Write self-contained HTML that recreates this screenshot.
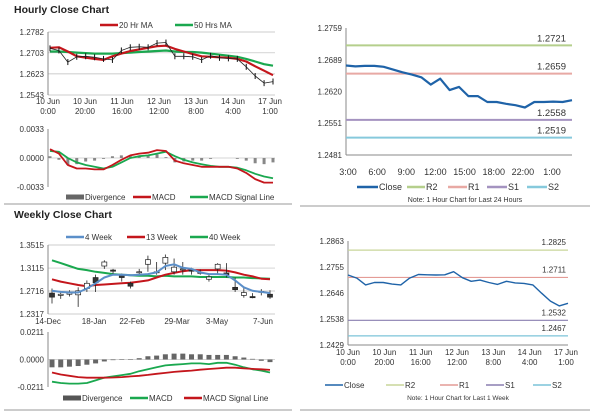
<!DOCTYPE html>
<html><head><meta charset="utf-8"><style>
html,body{margin:0;padding:0;background:#fff;}
svg{display:block;font-family:"Liberation Sans",sans-serif;}
</style></head><body>
<svg id="s" width="600" height="413" viewBox="0 0 600 413" xmlns="http://www.w3.org/2000/svg">
<text x="14" y="13" font-size="10.5" font-weight="bold" fill="#222">Hourly Close Chart</text>
<text x="14" y="218" font-size="10.5" font-weight="bold" fill="#222">Weekly Close Chart</text>
<line x1="4" y1="204" x2="292" y2="204" stroke="#999"/>
<line x1="300" y1="206" x2="590" y2="206" stroke="#999"/>
<line x1="4" y1="410" x2="292" y2="410" stroke="#999"/>
<line x1="300" y1="410" x2="590" y2="410" stroke="#999"/>
</svg>
<script>
// ---- data ----
const hourlyClose=[1.2720,1.2712,1.2668,1.2688,1.2690,1.2686,1.2680,1.2676,1.2712,1.2724,1.2726,1.2724,1.2740,1.2742,1.2690,1.2690,1.2688,1.2676,1.2692,1.2684,1.2682,1.2680,1.2650,1.2615,1.2588,1.2594];
const hourlyMA20=[1.2722,1.2724,1.2708,1.2690,1.2685,1.2680,1.2676,1.2690,1.2700,1.2710,1.2716,1.2722,1.2728,1.2730,1.2718,1.2708,1.2698,1.2690,1.2688,1.2686,1.2684,1.2680,1.2670,1.2652,1.2635,1.2618];
const hourlyMA50=[1.2708,1.2708,1.2706,1.2704,1.2702,1.2700,1.2700,1.2700,1.2702,1.2704,1.2706,1.2708,1.2710,1.2712,1.2708,1.2706,1.2706,1.2704,1.2700,1.2696,1.2692,1.2688,1.2680,1.2670,1.2660,1.2654];
const hourlyTicks=[1.2543,1.2623,1.2703,1.2782];
const hourlyCats=[["10 Jun","0:00"],["10 Jun","20:00"],["11 Jun","16:00"],["12 Jun","12:00"],["13 Jun","8:00"],["14 Jun","4:00"],["17 Jun","1:00"]];
const hMacd=[0.0010,0.0005,-0.0008,-0.0012,-0.0012,-0.0013,-0.0013,-0.0008,-0.0002,0.0003,0.0005,0.0006,0.0009,0.0008,-0.0003,-0.0006,-0.0008,-0.0010,-0.0010,-0.0010,-0.0010,-0.0012,-0.0017,-0.0024,-0.0028,-0.0028];
const hSignal=[0.0008,0.0007,0.0000,-0.0005,-0.0008,-0.0010,-0.0012,-0.0010,-0.0005,0.0000,0.0002,0.0003,0.0005,0.0007,0.0002,-0.0002,-0.0005,-0.0007,-0.0009,-0.0010,-0.0010,-0.0011,-0.0014,-0.0018,-0.0021,-0.0023];
const hDiv=[0.0002,-0.0002,-0.0008,-0.0007,-0.0004,-0.0003,-0.0001,0.0002,0.0003,0.0003,0.0003,0.0003,0.0004,0.0001,-0.0005,-0.0004,-0.0003,-0.0003,-0.0001,0,0,-0.0001,-0.0003,-0.0006,-0.0007,-0.0005];
const hMacdTicks=[-0.0033,0.0000,0.0033];

const dayClose=[1.2677,1.2675,1.2676,1.2676,1.2674,1.2668,1.2662,1.2657,1.2651,1.2635,1.2648,1.2623,1.2630,1.2610,1.2610,1.2597,1.2597,1.2593,1.2590,1.2585,1.2597,1.2597,1.2598,1.2597,1.2601];
const dayTicks=[1.2481,1.2551,1.2620,1.2689,1.2759];
const dayCats=["3:00","6:00","9:00","12:00","15:00","18:00","22:00","1:00"];
const dayLevels=[1.2721,1.2659,1.2558,1.2519];

const wOpen=[1.2680,1.2640,1.2660,1.2650,1.2760,1.2950,1.3150,1.3080,1.3000,1.2850,1.3050,1.3180,1.3050,1.3200,1.3050,1.3100,1.3080,1.3040,1.2920,1.3100,1.3030,1.2780,1.2640,1.2620,1.2710,1.2660];
const wClose=[1.2610,1.2660,1.2680,1.2720,1.2850,1.2860,1.3220,1.3060,1.2950,1.2800,1.3050,1.3260,1.3050,1.3300,1.3130,1.3100,1.3060,1.3030,1.2960,1.3180,1.3000,1.2740,1.2690,1.2600,1.2710,1.2610];
const wHigh=[1.2760,1.2700,1.2730,1.2780,1.2900,1.3000,1.3250,1.3100,1.3020,1.2880,1.3100,1.3330,1.3220,1.3350,1.3280,1.3220,1.3120,1.3090,1.3000,1.3200,1.3200,1.2950,1.2780,1.2680,1.2750,1.2730];
const wLow=[1.2500,1.2580,1.2620,1.2440,1.2700,1.2700,1.3100,1.2990,1.2880,1.2760,1.3000,1.3050,1.3000,1.3080,1.3000,1.3000,1.3000,1.3000,1.2880,1.3000,1.2950,1.2700,1.2600,1.2590,1.2640,1.2580];
const w4=[1.2720,1.2700,1.2690,1.2690,1.2760,1.2850,1.2950,1.3000,1.3000,1.2990,1.3000,1.3010,1.3040,1.3150,1.3180,1.3120,1.3100,1.3040,1.3010,1.3010,1.3000,1.2900,1.2780,1.2720,1.2700,1.2680];
const w13=[1.2920,1.2880,1.2850,1.2820,1.2800,1.2820,1.2830,1.2840,1.2850,1.2860,1.2880,1.2900,1.2950,1.3000,1.3030,1.3060,1.3080,1.3080,1.3080,1.3080,1.3070,1.3040,1.3000,1.2970,1.2930,1.2920];
const w40=[1.3250,1.3200,1.3150,1.3100,1.3080,1.3050,1.3030,1.3010,1.3000,1.2990,1.2980,1.2980,1.2970,1.2980,1.2970,1.2970,1.2970,1.2960,1.2960,1.2960,1.2960,1.2950,1.2950,1.2940,1.2935,1.2930];
const wTicks=[1.2317,1.2716,1.3115,1.3515];
const wCats=["14-Dec","18-Jan","22-Feb","29-Mar","3-May","7-Jun"];
const wDiv=[-0.0060,-0.0060,-0.0055,-0.0050,-0.0040,-0.0030,-0.0015,-0.0005,0,0.0003,0.0010,0.0025,0.0030,0.0040,0.0045,0.0045,0.0040,0.0040,0.0035,0.0035,0.0035,0.0025,0.0015,0.0005,-0.0010,-0.0020];
const wMacd=[-0.0170,-0.0180,-0.0185,-0.0185,-0.0180,-0.0160,-0.0140,-0.0130,-0.0120,-0.0110,-0.0090,-0.0075,-0.0060,-0.0045,-0.0040,-0.0035,-0.0030,-0.0030,-0.0035,-0.0025,-0.0025,-0.0040,-0.0060,-0.0075,-0.0085,-0.0100];
const wSignal=[-0.0100,-0.0115,-0.0125,-0.0135,-0.0140,-0.0140,-0.0140,-0.0138,-0.0135,-0.0130,-0.0125,-0.0118,-0.0110,-0.0103,-0.0095,-0.0090,-0.0085,-0.0078,-0.0073,-0.0068,-0.0063,-0.0063,-0.0068,-0.0072,-0.0075,-0.0080];
const wMacdTicks=[-0.0211,0.0000,0.0211];

const weekClose=[1.2721,1.2708,1.2680,1.2690,1.2690,1.2683,1.2680,1.2708,1.2723,1.2722,1.2721,1.2722,1.2735,1.2710,1.2695,1.2700,1.2690,1.2682,1.2695,1.2688,1.2686,1.2680,1.2645,1.2612,1.2592,1.2603];
const weekTicks=[1.2429,1.2538,1.2646,1.2755,1.2863];
const weekCats=[["10 Jun","0:00"],["10 Jun","20:00"],["11 Jun","16:00"],["12 Jun","12:00"],["13 Jun","8:00"],["14 Jun","4:00"],["17 Jun","1:00"]];
const weekLevels=[1.2825,1.2711,1.2532,1.2467];

// ---- helpers ----
const S=document.getElementById('s');const NS='http://www.w3.org/2000/svg';
function mk(tag,attrs,name,parent){const el=document.createElementNS(NS,tag);for(const k in attrs)el.setAttribute(k,attrs[k]);


(parent||S).appendChild(el);return el;}
function txt(x,y,s,name,o){const t=mk('text',Object.assign({x:x,y:y,'font-size':8,fill:'#333'},o||{}),name);t.textContent=s;return t;}
function scale(d0,d1,r0,r1){return v=>r0+(v-d0)/(d1-d0)*(r1-r0);}
function poly(xs,ys,vals,col,w,name){const pts=vals.map((v,i)=>xs(i).toFixed(1)+','+ys(v).toFixed(1)).join(' ');return mk('polyline',{points:pts,fill:'none',stroke:col,'stroke-width':w,'stroke-linejoin':'round'},name);}
function yaxis(x0,x1,ys,ticks,fmt,name,grid){ticks.forEach(t=>{const y=ys(t);if(grid)mk('line',{x1:x0,x2:x1,y1:y,y2:y,stroke:'#bbb','stroke-width':0.7},name+'-grid');txt(x0-4,y+3,fmt(t),name+'-tick',{'text-anchor':'end'});});
mk('line',{x1:x0,x2:x0,y1:ys(ticks[0]),y2:ys(ticks[ticks.length-1]),stroke:'#888'},name+'-line');}
function legend(items,y,name){items.forEach(it=>{const L=it.L||18;if(it.bar)mk('rect',{x:it.x,y:y-3.5,width:L,height:5,fill:it.c},name+'-swatch');else mk('line',{x1:it.x,x2:it.x+L,y1:y-1,y2:y-1,stroke:it.c,'stroke-width':it.w||2.5},name+'-swatch');txt(it.x+L+1,y+2,it.t,name+'-entry',{'font-size':it.fs||8});});}
const f4=v=>v.toFixed(4);

// ---- Hourly close (top-left) ----
{const X0=48,X1=275;const ys=scale(1.2543,1.2782,95,32);const xs=i=>X0+2+i*(X1-X0-4)/(hourlyClose.length-1);
yaxis(X0,X1,ys,hourlyTicks,f4,'hourly-y',true);
hourlyCats.forEach((c,i)=>{const x=X0+i*(270-X0)/6;txt(x,104,c[0],'hourly-x-label',{'text-anchor':'middle'});txt(x,114,c[1],'hourly-x-label',{'text-anchor':'middle'});});
poly(xs,ys,hourlyMA50,'#1aa84f',2.2,'ma50-line');poly(xs,ys,hourlyMA20,'#c4161c',2.2,'ma20-line');
hourlyClose.forEach((v,i)=>{const x=xs(i);mk('line',{x1:x,x2:x,y1:ys(v)-3,y2:ys(v)+3,stroke:'#111','stroke-width':1},'close-bar');});
poly(xs,ys,hourlyClose,'#222',0.8,'close-line');
legend([{x:100,c:'#c4161c',t:'20 Hr MA'},{x:175,c:'#1aa84f',t:'50 Hrs MA'}],26,'hourly-legend');
const ym=scale(-0.0033,0.0033,187,129);yaxis(X0,X1,ym,hMacdTicks,f4,'hmacd-y',false);
mk('line',{x1:X0,x2:X1,y1:ym(0),y2:ym(0),stroke:'#aaa','stroke-width':0.6},'hmacd-zero');
hDiv.forEach((v,i)=>{const x=xs(i);mk('rect',{x:x-1.5,y:Math.min(ym(v),ym(0)),width:3,height:Math.abs(ym(v)-ym(0)),fill:'#888'},'hmacd-divergence-bar');});
poly(xs,ym,hSignal,'#1aa84f',1.8,'hmacd-signal-line');poly(xs,ym,hMacd,'#c4161c',1.8,'hmacd-line');
legend([{x:66,c:'#666',t:'Divergence',bar:true},{x:133,c:'#c4161c',t:'MACD'},{x:190,c:'#1aa84f',t:'MACD Signal Line'}],198,'hmacd-legend');}

// ---- Last 24 hours (top-right) ----
{const X0=346,X1=572;const ys=scale(1.2481,1.2759,155,28);const xs=i=>X0+i*(X1-X0)/(dayClose.length-1);
yaxis(X0,X1,ys,dayTicks,f4,'day-y',false);
mk('line',{x1:X0,x2:X1,y1:155,y2:155,stroke:'#888'},'day-x-axis');
dayCats.forEach((c,i)=>{const x=348+i*(552-348)/7;txt(x,175,c,'day-x-label',{'text-anchor':'middle','font-size':9});});
const cols=['#b5cf8c','#e8a9a4','#a493c0','#86c9dc'];const nm=['r2','r1','s1','s2'];
dayLevels.forEach((v,i)=>{mk('line',{x1:X0,x2:X1,y1:ys(v),y2:ys(v),stroke:cols[i],'stroke-width':2},nm[i]+'-level');txt(X1-6,ys(v)-4,f4(v),nm[i]+'-value',{'text-anchor':'end','font-size':9.5});});
poly(xs,ys,dayClose,'#1f63a8',2.2,'day-close-line');
legend([{x:357,c:'#1f63a8',t:'Close',fs:9,L:21},{x:407,c:cols[0],t:'R2',fs:9},{x:448,c:cols[1],t:'R1',fs:9,L:19},{x:487,c:cols[2],t:'S1',fs:9,L:20},{x:527,c:cols[3],t:'S2',fs:9,L:20}],188,'day-legend');
txt(465,202,'Note: 1 Hour Chart for Last 24 Hours','day-note',{'text-anchor':'middle','font-size':7});}

// ---- Weekly (bottom-left) ----
{const X0=48,X1=275;const ys=scale(1.2317,1.3515,314,245);const xs=i=>X0+4+i*(270-X0-4)/(wClose.length-1);
yaxis(X0,X1,ys,wTicks,f4,'weekly-y',true);
wCats.forEach((c,i)=>{const x=[48,94,132,177,217,263][i];txt(x,324,c,'weekly-x-label',{'text-anchor':'middle'});});
poly(xs,ys,w40,'#1aa84f',2,'w40-line');poly(xs,ys,w13,'#c4161c',2,'w13-line');
wClose.forEach((c,i)=>{const x=xs(i),o=wOpen[i];mk('line',{x1:x,x2:x,y1:ys(wHigh[i]),y2:ys(wLow[i]),stroke:'#222','stroke-width':0.8},'candle-wick');
mk('rect',{x:x-2.5,y:ys(Math.max(o,c)),width:5,height:Math.max(1,Math.abs(ys(o)-ys(c))),fill:c<o?'#333':'#fff',stroke:'#222','stroke-width':0.7},'candle-body');});
poly(xs,ys,w4,'#5b8fc9',2,'w4-line');
legend([{x:66,c:'#5b8fc9',t:'4 Week'},{x:127,c:'#c4161c',t:'13 Week'},{x:190,c:'#1aa84f',t:'40 Week'}],238,'weekly-legend');
const ym=scale(-0.0211,0.0211,387,332);yaxis(X0,X1,ym,wMacdTicks,f4,'wmacd-y',false);
mk('line',{x1:X0,x2:X1,y1:ym(0),y2:ym(0),stroke:'#aaa','stroke-width':0.6},'wmacd-zero');
wDiv.forEach((v,i)=>{const x=xs(i);mk('rect',{x:x-2.5,y:Math.min(ym(v),ym(0)),width:5,height:Math.max(0.5,Math.abs(ym(v)-ym(0))),fill:'#666'},'wmacd-divergence-bar');});
poly(xs,ym,wMacd,'#1aa84f',1.8,'wmacd-line');poly(xs,ym,wSignal,'#c4161c',1.8,'wmacd-signal-line');
legend([{x:63,c:'#555',t:'Divergence',bar:true},{x:130,c:'#1aa84f',t:'MACD'},{x:184,c:'#c4161c',t:'MACD Signal Line'}],399,'wmacd-legend');}

// ---- Last week hourly (bottom-right) ----
{const X0=348,X1=568;const ys=scale(1.2429,1.2863,345,241);const xs=i=>X0+i*(X1-X0)/(weekClose.length-1);
yaxis(X0,X1,ys,weekTicks,f4,'week-y',false);
mk('line',{x1:X0,x2:X1,y1:345,y2:345,stroke:'#888'},'week-x-axis');
weekCats.forEach((c,i)=>{const x=348+i*(566-348)/6;txt(x,355,c[0],'week-x-label',{'text-anchor':'middle'});txt(x,365,c[1],'week-x-label',{'text-anchor':'middle'});});
const nm=['r2','r1','s1','s2'];
const lc=['#c8d59a','#e49c96','#8a7fb0','#7cc4d8'];
weekLevels.forEach((v,i)=>{mk('line',{x1:X0,x2:X1,y1:ys(v),y2:ys(v),stroke:lc[i],'stroke-width':1.2},'week-'+nm[i]+'-level');txt(X1-2,ys(v)-5,f4(v),'week-'+nm[i]+'-value',{'text-anchor':'end'});});
poly(xs,ys,weekClose,'#1f63a8',1.4,'week-close-line');
legend([{x:325,c:'#1f63a8',t:'Close',w:1.5},{x:386,c:lc[0],t:'R2',w:1.5},{x:440,c:lc[1],t:'R1',w:1.5},{x:486,c:lc[2],t:'S1',w:1.5},{x:533,c:lc[3],t:'S2',w:1.5}],386,'week-legend');
txt(458,400,'Note: 1 Hour Chart for Last 1 Week','week-note',{'text-anchor':'middle','font-size':6.5});}
</script>
</body></html>
